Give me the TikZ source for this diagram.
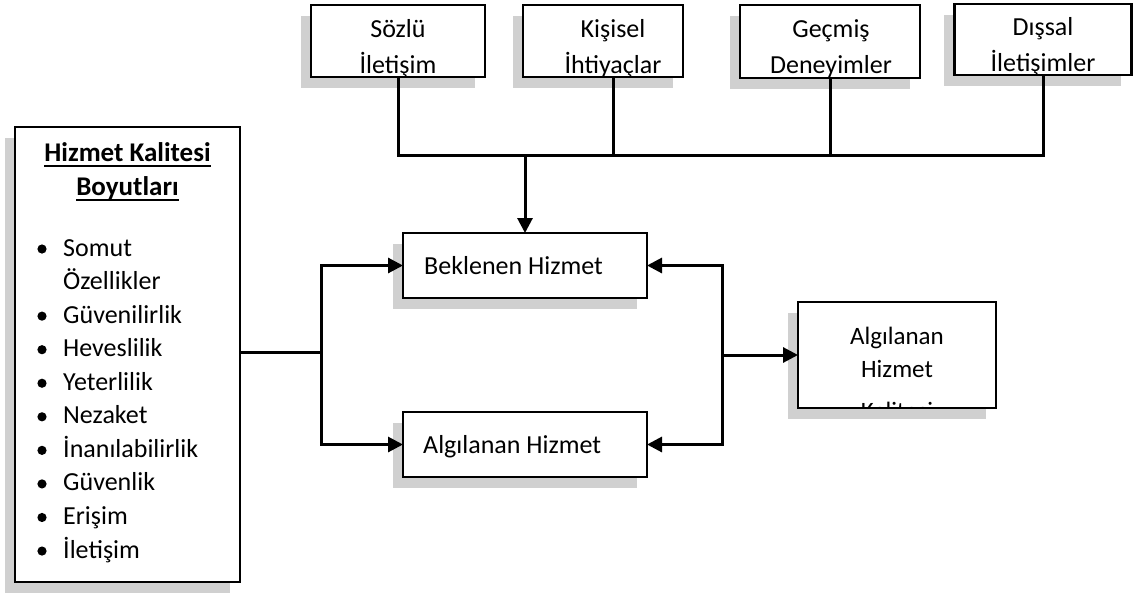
\documentclass[tikz,border=0pt]{standalone}
\usepackage{fontspec}
\setmainfont{Carlito}
\usetikzlibrary{arrows.meta,shadows}
\definecolor{shadowgray}{RGB}{208,208,208}
\begin{document}
\begin{tikzpicture}[x=1pt,y=-1pt,
  box/.style={draw, fill=white, line width=2.2pt, inner sep=0pt, outer sep=0pt,
    general shadow={fill=shadowgray, shadow xshift=-10.5pt, shadow yshift=-10.5pt}},
  conn/.style={line width=3pt},
  arr/.style={conn, -{Triangle[length=15pt,width=15pt]}},
  lbl/.style={inner sep=0pt, anchor=base},
  toptxt/.style={lbl, font=\fontsize{26}{30}\selectfont},
  midtxt/.style={lbl, anchor=base west, font=\fontsize{26}{30}\selectfont},
  qtxt/.style={lbl, font=\fontsize{25}{30}\selectfont},
  head/.style={lbl, font=\fontsize{27}{32}\selectfont\bfseries},
  item/.style={lbl, anchor=base west, font=\fontsize{26}{30}\selectfont},
  uline/.style={line width=2pt}
]
\useasboundingbox (0,0) rectangle (1134,592);

% influencing factors
\node[box, minimum width=174pt, minimum height=72pt] (soz) at (398,41) {};
\node[box, minimum width=160pt, minimum height=72pt] (kis) at (603,41) {};
\node[box, minimum width=180pt, minimum height=73pt] (gec) at (830,41.5) {};
\node[box, minimum width=177pt, minimum height=71pt] (dis) at (1043,39.5) {};

\node[toptxt] (soz1) at (398,37) {Sözlü};
\node[toptxt] (soz2) at (398,73) {İletişim};
\node[toptxt] (kis1) at (613,37) {Kişisel};
\node[toptxt] (kis2) at (613,73) {İhtiyaçlar};
\node[toptxt] (gec1) at (831,37) {Geçmiş};
\node[toptxt] (gec2) at (831,73) {Deneyimler};
\node[toptxt] (dis1) at (1043,35) {Dışsal};
\node[toptxt] (dis2) at (1043,71) {İletişimler};

% dimensions list
\node[box, minimum width=225pt, minimum height=455pt] (dim) at (127.5,354.5) {};
\node[head] (h1) at (127.5,161) {Hizmet Kalitesi};
\node[head] (h2) at (127.5,195) {Boyutları};
\draw[uline] ([yshift=-5pt]h1.base west) -- ([yshift=-5pt]h1.base east);
\draw[uline] ([yshift=-5pt]h2.base west) -- ([yshift=-5pt]h2.base east);

\foreach \txt [count=\i from 0] in {Somut, Özellikler, Güvenilirlik, Heveslilik,
    Yeterlilik, Nezaket, İnanılabilirlik, Güvenlik, Erişim, İletişim}{
  \pgfmathsetmacro{\yy}{256+33.56*\i}
  \node[item] (it\i) at (63,\yy) {\txt};
}
\foreach \i in {0,2,3,4,5,6,7,8,9}{
  \fill ([yshift=7pt]it\i.base west) ++(-21pt,0) circle (4.6pt);
}

% expected and perceived service
\node[box, minimum width=244pt, minimum height=65pt] (bek) at (525,265.5) {};
\node[midtxt] (bekt) at (424,274) {Beklenen Hizmet};
\node[box, minimum width=244pt, minimum height=65pt] (alg) at (525,444.5) {};
\node[midtxt] (algt) at (423,453) {Algılanan Hizmet};

% perceived service quality
\node[box, minimum width=198pt, minimum height=106pt] (qual) at (897,355) {};
\node[qtxt] (q1) at (897,344) {Algılanan};
\node[qtxt] (q2) at (897,377) {Hizmet};
\begin{scope}
  \clip ([xshift=1.1pt,yshift=1.1pt]qual.south west) rectangle ([xshift=-1.1pt,yshift=-1.1pt]qual.north east);
  \node[qtxt] (q3) at (897,419) {Kalitesi};
\end{scope}
\draw[line width=2.2pt] (qual.south west) -- (qual.south east);

% connectors
\coordinate (bus) at (700,155);
\draw[conn] (soz.south) -- (soz.south |- bus) -- (dis.south |- bus) -- (dis.south);
\draw[conn] ([xshift=10pt]kis.south) -- ([xshift=10pt]kis.south |- bus);
\draw[conn] (gec.south) -- (gec.south |- bus);
\draw[arr] (bek.north |- bus) -- (bek.north);

\coordinate (split) at (321,352);
\draw[conn] (dim.east |- split) -- (split);
\draw[arr] (split) |- (bek.west);
\draw[arr] (split) |- (alg.west);

\coordinate (join) at (722,355);
\draw[arr] (join) |- (bek.east);
\draw[arr] (join) |- (alg.east);
\draw[arr] (join) -- (qual.west);
\end{tikzpicture}
\end{document}
